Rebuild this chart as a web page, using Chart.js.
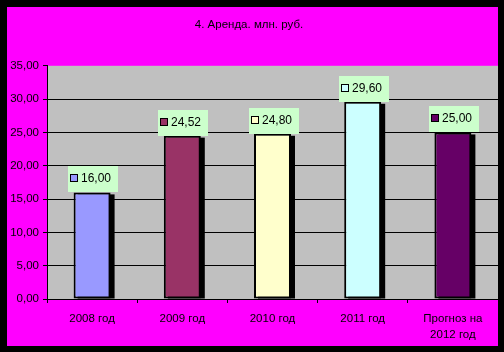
<!DOCTYPE html>
<html>
<head>
<title>Аренда</title>
<style>
  body { margin: 0; background: #000; }
  canvas { display: block; }
</style>
</head>
<body>

<canvas id="myChart" width="504" height="352"></canvas>

<script src="https://cdn.jsdelivr.net/npm/chart.js"></script>

<script>

    // данные
    var categories = ['2008 год', '2009 год', '2010 год', '2011 год', ['Прогноз на', '2012 год']];
    var values = [16.00, 24.52, 24.80, 29.60, 25.00];
    var barColors = ['#9999FF', '#993366', '#FFFFCC', '#CCFFFF', '#660066'];
    var yTicks = [0, 5, 10, 15, 20, 25, 30, 35];

    function fmt(v) {
        return v.toFixed(2).replace('.', ',');
    }

    // фон: пурпурная рамка и серая область построения
    const background = {
        id: 'background',
        beforeDraw(chart) {
            const c = chart.ctx;
            const a = chart.chartArea;
            c.save();
            c.fillStyle = '#000';
            c.fillRect(0, 0, chart.width, chart.height);
            c.fillStyle = '#FF00FF';
            c.fillRect(7, 7, 491, 339);
            c.fillStyle = '#C0C0C0';
            c.fillRect(a.left, a.top, a.right - a.left, a.bottom - a.top);
            c.restore();
        }
    };

    // тени столбцов
    const shadows = {
        id: 'shadows',
        beforeDatasetsDraw(chart) {
            const c = chart.ctx;
            const meta = chart.getDatasetMeta(0);
            c.save();
            c.fillStyle = '#000';
            meta.data.forEach(function (bar) {
                const w = bar.width;
                c.fillRect(bar.x - w / 2 + 4, bar.y + 2, w, bar.base - bar.y - 2);
            });
            c.restore();
        }
    };

    // подписи значений
    const valueLabels = {
        id: 'valueLabels',
        afterDatasetsDraw(chart) {
            const c = chart.ctx;
            const meta = chart.getDatasetMeta(0);
            c.save();
            c.font = '12px "Liberation Sans", Arial, sans-serif';
            c.textBaseline = 'middle';
            meta.data.forEach(function (bar, i) {
                const bw = 50, bh = 26;
                const x0 = Math.round(bar.x - bw / 2 + 1);
                const y0 = Math.round(bar.y - bh);
                c.fillStyle = '#CCFFCC';
                c.fillRect(x0, y0, bw, bh);
                c.fillStyle = barColors[i];
                c.fillRect(x0 + 2, y0 + 8, 7, 7);
                c.strokeStyle = '#000';
                c.lineWidth = 1;
                c.strokeRect(x0 + 2.5, y0 + 8.5, 7, 7);
                c.fillStyle = '#000';
                c.textAlign = 'left';
                c.fillText(fmt(values[i]), x0 + 13, y0 + 13);
            });
            c.restore();
        }
    };

    const ctx = document.getElementById('myChart');

    const data = {
        labels: categories,
        datasets: [
            {
            label: 'Аренда',
            data: values,
            backgroundColor: barColors,
            borderColor: '#000',
            borderWidth: 2,
            borderSkipped: false,
            barPercentage: 0.41,
            categoryPercentage: 1
            }
        ]
    };

    const config = {
        type: 'bar',
        data: data,
        plugins: [background, shadows, valueLabels],
        options: {
            responsive: false,
            animation: false,
            devicePixelRatio: 1,
            layout: {
                padding: { left: 0, right: 6, top: 0, bottom: 0 }
            },
            scales: {
                x: {
                    offset: true,
                    grid: {
                        offset: true,
                        drawOnChartArea: false,
                        color: '#000',
                        tickColor: '#000',
                        tickLength: 4
                    },
                    border: { color: '#000', width: 1 },
                    ticks: {
                        color: '#000',
                        padding: 8,
                        maxRotation: 0,
                        autoSkip: false,
                        font: { family: '"Liberation Sans", Arial, sans-serif', size: 11.5, lineHeight: 1.4 }
                    },
                    afterFit(scale) { scale.height = 53; }
                },
                y: {
                    min: 0,
                    max: 35,
                    afterBuildTicks(scale) {
                        scale.ticks = yTicks.map(function (v) { return { value: v }; });
                    },
                    grid: {
                        color: function (c) { return c.tick && c.tick.value === 35 ? 'rgba(0,0,0,0)' : '#000'; },
                        tickColor: '#000',
                        tickLength: 4
                    },
                    border: { color: '#000', width: 1 },
                    ticks: {
                        color: '#000',
                        padding: 4,
                        callback: function (v) { return fmt(v); },
                        font: { family: '"Liberation Sans", Arial, sans-serif', size: 11.5 }
                    },
                    afterFit(scale) { scale.width = 47; }
                }
            },
            plugins: {
                legend: { display: false },
                tooltip: { enabled: false },
                title: {
                    display: true,
                    text: '4. Аренда. млн. руб.',
                    color: '#000',
                    font: { family: '"Liberation Sans", Arial, sans-serif', size: 11.5, weight: 'normal', lineHeight: 1.2 },
                    padding: { top: 18, bottom: 34 }
                }
            }
        }
    };

    new Chart(ctx, config);

</script>

</body>
</html>
